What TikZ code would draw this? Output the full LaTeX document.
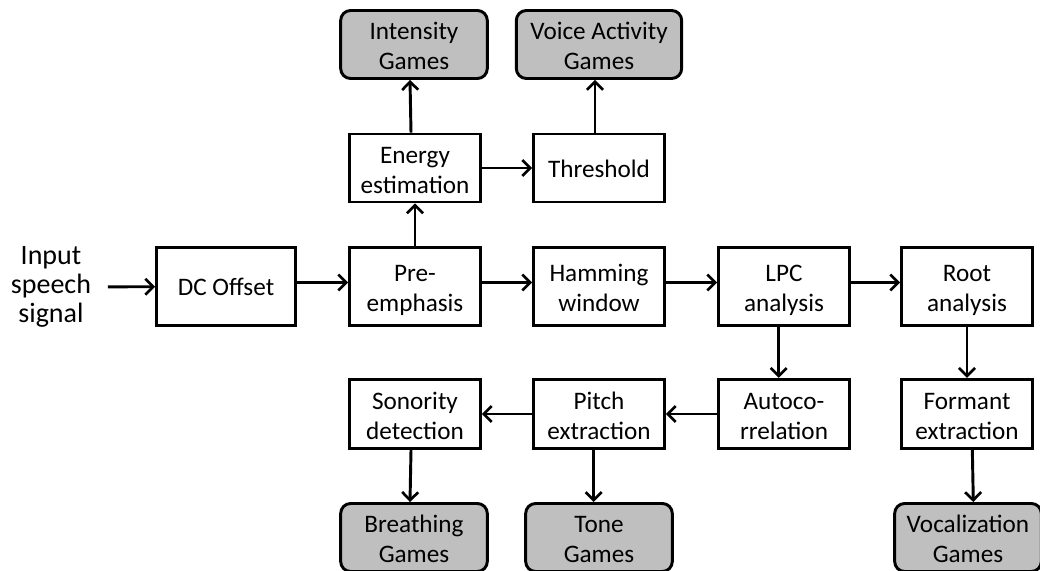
\documentclass[tikz,border=0pt]{standalone}
\usepackage{fontspec}
\setmainfont{Carlito}
\usetikzlibrary{arrows.meta}

\tikzset{every picture/.style={line width=0.75pt}}
\tikzset{
  box/.style={draw, line width=2.2pt, fill=white, align=center, inner sep=0pt,
    minimum width=98pt, minimum height=51pt, font=\fontsize{18.9}{22.5}\selectfont},
  blk/.style={box, execute at begin node={\rule[-4pt]{0pt}{45.7pt}}},
  oneline/.style={box, execute at begin node={\rule[-4pt]{0pt}{22pt}}},
  mainblk/.style={blk, minimum height=58.5pt},
  game/.style={blk, fill=black!25, rounded corners=7.5pt, minimum width=110pt},
  arr/.style={-{Straight Barb[length=6pt,width=12pt,line width=2pt]}, line width=2.2pt}
}

\begin{document}
\begin{tikzpicture}[x=0.75pt,y=0.75pt,yscale=-1,xscale=1]
    \useasboundingbox (0,0) rectangle (1040,571);

    % Text Node
    \node (inp) at (51,287) [align=center, font=\fontsize{21}{22}\selectfont] {Input\\speech\\signal};

    %Shape: Rectangle (main row)
    \node (dc) at (226,286.5) [oneline, minimum height=58.5pt, minimum width=104pt] {DC Offset};
    \node (pre) at (415,286.5) [mainblk] {Pre-\\emphasis};
    \node (ham) at (599,286.5) [mainblk] {Hamming\\window};
    \node (lpc) at (784,286.5) [mainblk] {LPC\\analysis};
    \node (root) at (967,286.5) [mainblk] {Root\\analysis};

    %Shape: Rectangle (upper row)
    \node (energy) at (415,168) [blk] {Energy\\estimation};
    \node (thresh) at (599,168) [oneline] {Threshold};

    %Shape: Rectangle (lower row)
    \node (sonor) at (415,414) [blk, minimum height=52pt] {Sonority\\detection};
    \node (pitch) at (599,414) [blk, minimum height=52pt] {Pitch\\extraction};
    \node (autoc) at (784,414) [blk, minimum height=52pt] {Autoco-\\rrelation};
    \node (formant) at (967,414) [blk, minimum height=52pt] {Formant\\extraction};

    %Shape: Rounded Rectangle (games)
    \node (intens) at (414,44.5) [game] {Intensity\\Games};
    \node (voice) at (599,44.5) [game, minimum width=124pt] {Voice Activity\\Games};
    \node (breath) at (414,537.5) [game] {Breathing\\Games};
    \node (tone) at (599,537.5) [game] {Tone\\Games};
    \node (vocal) at (968,537.5) [game] {Vocalization\\Games};

    %Straight Lines
    \draw [arr, shorten <=9pt] (inp) -- (dc);
    \draw [arr] ([yshift=-3pt]dc.east) -- ([yshift=-3pt]pre.west);
    \draw [arr] ([yshift=-3pt]pre.east) -- ([yshift=-3pt]ham.west);
    \draw [arr] ([yshift=-3pt]ham.east) -- ([yshift=-3pt]lpc.west);
    \draw [arr] ([yshift=-3pt]lpc.east) -- ([yshift=-3pt]root.west);

    \draw [arr] (pre) -- (energy);
    \draw [arr] ([xshift=-3pt]energy.north) -- ([xshift=-3pt]intens.south);
    \draw [arr] (energy) -- (thresh);
    \draw [arr] ([xshift=-3pt]thresh.north) -- ([xshift=-3pt]voice.south);

    \draw [arr] ([xshift=-4pt]lpc.south) -- ([xshift=-4pt]autoc.north);
    \draw [arr] (autoc) -- (pitch);
    \draw [arr] (pitch) -- (sonor);
    \draw [arr] ([xshift=-3pt]sonor.south) -- ([xshift=-3pt]breath.north);
    \draw [arr] ([xshift=-4pt]pitch.south) -- ([xshift=-4pt]tone.north);
    \draw [arr] (root) -- (formant);
    \draw [arr] ([xshift=4pt]formant.south) -- ([xshift=4pt]vocal.north);

\end{tikzpicture}
\end{document}
